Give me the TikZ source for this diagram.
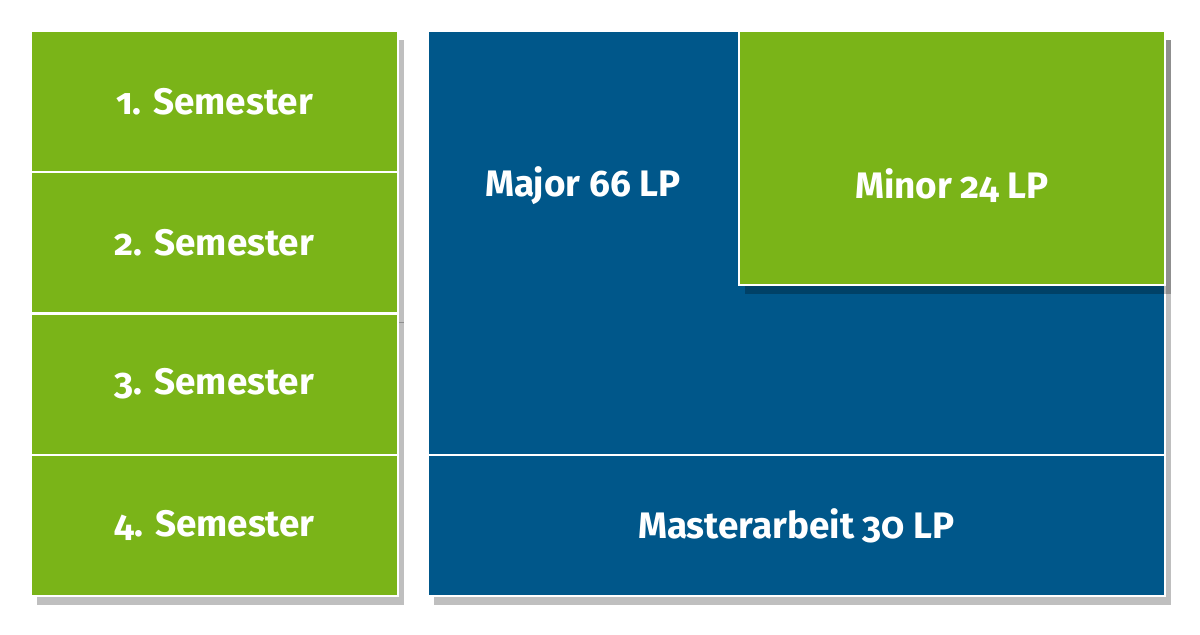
\documentclass[tikz,border=0pt]{standalone}
\usepackage{fontspec}
\setmainfont[Numbers=OldStyle]{Fira Sans}
\usetikzlibrary{shadows}

\definecolor{lpgreen}{RGB}{122,180,24}
\definecolor{lpblue}{RGB}{0,87,138}

\begin{document}
\begin{tikzpicture}[x=0.02cm, y=-0.02cm,
  box/.style={rectangle, draw=white, line width=1.2pt, inner sep=0pt, outer sep=0pt,
    drop shadow={shadow xshift=0.12cm, shadow yshift=-0.18cm, fill=black, opacity=0.25}},
  sem/.style={box, fill=lpgreen, minimum width=7.34cm, minimum height=2.825cm},
  lbl/.style={text=white, font=\fontsize{21}{25}\selectfont\bfseries}]

  \useasboundingbox (0,0) rectangle (1200,635);

  % Define nodes
  \node[sem] (s1) at (214.5,101.6) {};
  \node[sem] (s2) at (214.5,242.9) {};
  \node[sem] (s3) at (214.5,384.1) {};
  \node[sem] (s4) at (214.5,525.4) {};
  \node[box, fill=lpblue, minimum width=14.74cm, minimum height=8.48cm] (major) at (796.5,243) {};
  \node[box, fill=lpgreen, minimum width=8.52cm, minimum height=5.08cm] (minor) at (952,158) {};
  \node[box, fill=lpblue, minimum width=14.74cm, minimum height=2.82cm] (thesis) at (796.5,525.5) {};

  % Labels
  \node[lbl] at (s1) {1. Semester};
  \node[lbl] at (s2) {2. Semester};
  \node[lbl] at (s3) {3. Semester};
  \node[lbl] at (s4) {4. Semester};
  \node[lbl] (majorlbl) at (583,186) {Major 66 LP};
  \node[lbl] (minorlbl) at (minor.center |- majorlbl) {Minor 24 LP};
  \node[lbl] at (thesis) {Masterarbeit 30 LP};

\end{tikzpicture}
\end{document}
